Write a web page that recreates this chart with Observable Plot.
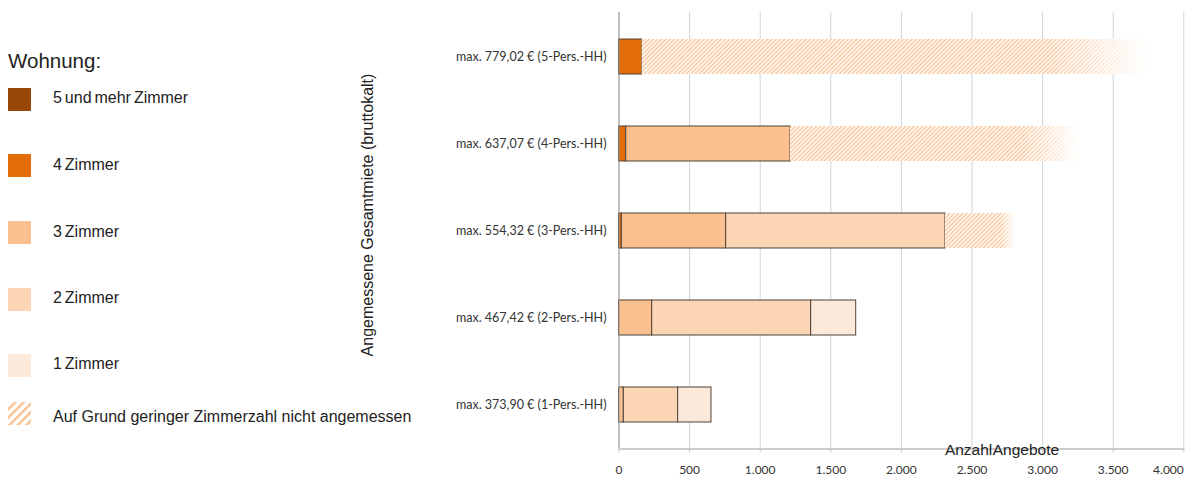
<!DOCTYPE html>
<html><head><meta charset="utf-8">
<script src="https://cdn.jsdelivr.net/npm/d3@7"></script>
<script src="https://cdn.jsdelivr.net/npm/@observablehq/plot@0.6"></script>
<style>
html,body{margin:0;padding:0;background:#fff;}
#wrap{position:relative;width:1192px;height:480px;overflow:hidden;}
#chart{position:absolute;left:0;top:0;}
#overlay{position:absolute;left:0;top:0;pointer-events:none;}
</style></head>
<body>
<svg width="0" height="0" style="position:absolute">
<defs>
<pattern id="hatch" patternUnits="userSpaceOnUse" width="3" height="3" patternTransform="rotate(45)">
<rect width="3" height="3" fill="#fff"/>
<rect width="1.3" height="3" fill="#f9be8c"/>
</pattern>
<pattern id="hatchLegend" patternUnits="userSpaceOnUse" width="6" height="6" patternTransform="rotate(45)">
<rect width="6" height="6" fill="#fff"/>
<rect width="2.4" height="6" fill="#fac090"/>
</pattern>
<linearGradient id="fade" x1="0" x2="1" y1="0" y2="0">
<stop offset="0" stop-color="#fff" stop-opacity="0"/>
<stop offset="0.8" stop-color="#fff" stop-opacity="0"/>
<stop offset="1" stop-color="#fff" stop-opacity="1"/>
</linearGradient>
</defs></svg>
<div id="wrap"><div id="chart"></div><svg id="overlay" width="1192" height="480"></svg></div>
<script>
const categories = ["max. 779,02 € (5-Pers.-HH)", "max. 637,07 € (4-Pers.-HH)", "max. 554,32 € (3-Pers.-HH)", "max. 467,42 € (2-Pers.-HH)", "max. 373,90 € (1-Pers.-HH)"];
const roomTypes = ["5 und mehr Zimmer", "4 Zimmer", "3 Zimmer", "2 Zimmer", "1 Zimmer"];
const roomColors = ["#974806", "#e36c09", "#fac090", "#fcd5b5", "#fde9d9"];
const hatchLabel = "Auf Grund geringer Zimmerzahl nicht angemessen";
const zimmer5 = [0, 0, 0, 0, 0];
const zimmer4 = [164, 51, 20, 0, 0];
const zimmer3 = [0, 1164, 739, 235, 34];
const zimmer2 = [0, 0, 1553, 1126, 385];
const zimmer1 = [0, 0, 0, 319, 236];
const nichtAngemessen = [3586, 2053, 496, 0, 0];
const xTicks = [0, 500, 1000, 1500, 2000, 2500, 3000, 3500, 4000];
const legendTitle = "Wohnung:";
const yTitle = "Angemessene Gesamtmiete (bruttokalt)";
const xTitle = "Anzahl Angebote";

const series = [zimmer5, zimmer4, zimmer3, zimmer2, zimmer1];
const solid = [], hatched = [];
categories.forEach((cat, i) => {
  let acc = 0;
  series.forEach((s, j) => {
    const v = s[i];
    if (v > 0) solid.push({cat, type: roomTypes[j], x1: acc, x2: acc + v});
    acc += v;
  });
  if (nichtAngemessen[i] > 0) hatched.push({cat, x1: acc, x2: acc + nichtAngemessen[i]});
});
const fmt = d => d3.format(",")(d).replace(/,/g, ".");

const chart = Plot.plot({
  width: 1192, height: 480,
  marginLeft: 618.5, marginRight: 8.7, marginTop: 12, marginBottom: 31.5,
  style: {fontFamily: "Lato, sans-serif", fontSize: "12px", color: "#333", background: "transparent"},
  x: {domain: [0, 4000]},
  y: {domain: categories, paddingInner: 0.6, paddingOuter: 0.3},
  color: {domain: roomTypes, range: roomColors},
  marks: [
    Plot.gridX(xTicks, {stroke: "#d4d4d4", strokeOpacity: 1}),
    Plot.barX(solid, {x1: "x1", x2: "x2", y: "cat", fill: "type", stroke: "#4f4239", strokeWidth: 1}),
    Plot.barX(hatched, {x1: "x1", x2: "x2", y: "cat", fill: "url(#hatch)"}),
    Plot.barX(hatched, {x1: "x1", x2: "x2", y: "cat", fill: "url(#fade)"}),
    Plot.ruleX([0], {stroke: "#9a9a9a"}),
    Plot.frame({anchor: "bottom", stroke: "#9a9a9a"}),
    Plot.axisX(xTicks.slice(0, -1), {tickSize: 4, tickPadding: 12.5, stroke: "#c8c8c8", tickFormat: fmt, label: null}),
    Plot.axisX(xTicks.slice(-1), {tickSize: 4, tickPadding: 12.5, stroke: "#c8c8c8", textAnchor: "end", tickFormat: fmt, label: null}),
    Plot.axisY({tickSize: 0, tickPadding: 12.5, fontSize: 12.5, label: null})
  ]
});
document.getElementById("chart").appendChild(chart);

// legend and titles
const ov = d3.select("#overlay");
const font = "'Liberation Sans', Arial, sans-serif";
ov.append("text").attr("x", 8).attr("y", 68).attr("font-family", font).attr("font-size", 20.5).attr("fill", "#222").text(legendTitle);
const swTops = [88, 154, 221, 288, 354];
const txtBase = [102.5, 170, 236.5, 302.5, 369];
roomTypes.forEach((t, i) => {
  ov.append("rect").attr("x", 8).attr("y", swTops[i]).attr("width", 23).attr("height", 23).attr("fill", roomColors[i]);
  ov.append("text").attr("x", 53).attr("y", txtBase[i]).attr("font-family", font).attr("font-size", 16).attr("word-spacing", -1.5).attr("fill", "#222").text(t);
});
ov.append("rect").attr("x", 8).attr("y", 402).attr("width", 23).attr("height", 23).attr("fill", "url(#hatchLegend)");
ov.append("text").attr("x", 53).attr("y", 422).attr("font-family", font).attr("font-size", 16).attr("fill", "#222").text(hatchLabel);
ov.append("text").attr("transform", "translate(367,215) rotate(-90)").attr("text-anchor", "middle").attr("dy", "0.35em")
  .attr("font-family", font).attr("font-size", 16).attr("fill", "#222").text(yTitle);
ov.append("text").attr("x", 1002).attr("y", 455).attr("text-anchor", "middle").attr("font-family", font).attr("font-size", 15.5).attr("word-spacing", -3).attr("fill", "#222").text(xTitle);
</script>
</body></html>
